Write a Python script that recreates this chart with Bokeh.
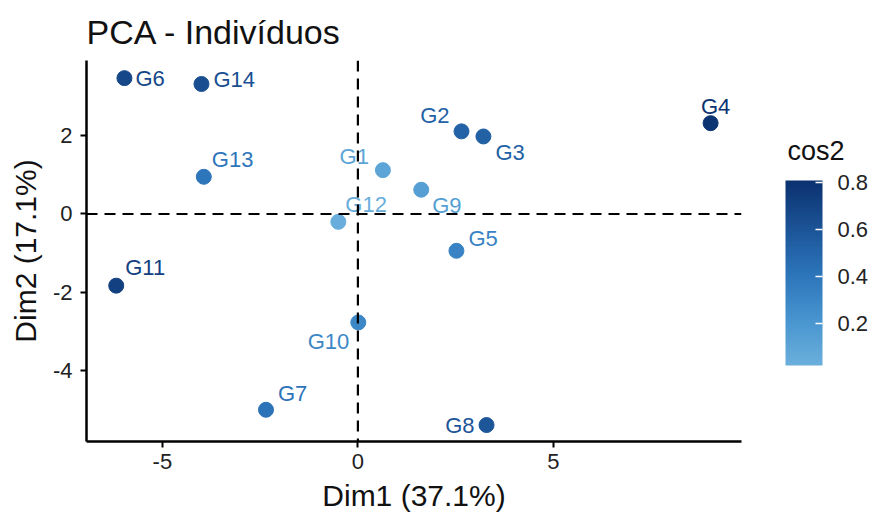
from bokeh.plotting import figure
from bokeh.models import (ColumnDataSource, LinearColorMapper, ColorBar, Span,
                          FixedTicker, Range1d)
from bokeh.core.properties import value
from bokeh.embed import file_html
from bokeh.resources import INLINE

# PCA individual coordinates and quality of representation
individuals = ["G1", "G2", "G3", "G4", "G5", "G6", "G7",
               "G8", "G9", "G10", "G11", "G12", "G13", "G14"]
dim1 = [0.64, 2.65, 3.21, 9.02, 2.52, -5.97, -2.35,
        3.29, 1.62, 0.01, -6.18, -0.50, -3.94, -4.00]
dim2 = [1.12, 2.11, 1.98, 2.32, -0.94, 3.47, -5.00,
        -5.39, 0.62, -2.77, -1.83, -0.20, 0.95, 3.32]
cos2 = [0.10, 0.52, 0.53, 0.80, 0.32, 0.68, 0.42,
        0.60, 0.14, 0.30, 0.72, 0.04, 0.40, 0.64]

x_ticks = [-5, 0, 5]
y_ticks = [-4, -2, 0, 2]
cb_ticks = [0.2, 0.4, 0.6, 0.8]

# label placement (alignment, dx, dy in screen px), like a repel layout
label_pos = {
    "G1": ("right", -14, -14), "G2": ("right", -12, -16), "G3": ("left", 12, 16),
    "G4": ("center", 5, -17), "G5": ("left", 12, -12), "G6": ("left", 11, 0),
    "G7": ("left", 12, -16), "G8": ("right", -12, 0), "G9": ("left", 11, 16),
    "G10": ("right", -9, 19), "G11": ("left", 9, -18), "G12": ("left", 7, -17),
    "G13": ("left", 8, -17), "G14": ("left", 12, -4),
}


def hex_to_rgb(h):
    h = h.lstrip("#")
    return tuple(int(h[i:i + 2], 16) for i in (0, 2, 4))


def gradient(stops, n=256):
    cols = []
    for i in range(n):
        t = i / (n - 1)
        k = min(int(t * (len(stops) - 1)), len(stops) - 2)
        lt = t * (len(stops) - 1) - k
        a, b = hex_to_rgb(stops[k]), hex_to_rgb(stops[k + 1])
        c = [round(a[j] + (b[j] - a[j]) * lt) for j in range(3)]
        cols.append("#%02x%02x%02x" % tuple(c))
    return cols


palette = gradient(["#6bb0dc", "#4794cf", "#2c74b9", "#1b5396", "#0b3170"])
mapper = LinearColorMapper(palette=palette, low=0.02, high=0.81)

FONT = "Liberation Sans"

p = figure(width=875, height=519, output_backend="svg", toolbar_location=None,
           x_range=Range1d(-6.94, 9.81), y_range=Range1d(-5.81, 3.92),
           title="PCA - Indivíduos",
           min_border_left=86, min_border_right=134,
           min_border_top=60, min_border_bottom=78)
p.outline_line_color = None
p.grid.visible = False
p.background_fill_color = "white"
p.border_fill_color = "white"

p.title.text_font = FONT
p.title.text_font_size = "34px"
p.title.text_font_style = "normal"
p.title.text_color = "#111111"
p.title.align = "left"
p.title.offset = 0
p.title.standoff = 19

for ax, ticks, lab in ((p.xaxis[0], x_ticks, "Dim1 (37.1%)"),
                       (p.yaxis[0], y_ticks, "Dim2 (17.1%)")):
    ax.ticker = FixedTicker(ticks=ticks)
    ax.major_label_overrides = {t: str(t) for t in ticks}
    ax.axis_label = lab
    ax.axis_label_text_font = FONT
    ax.axis_label_text_font_size = "30px"
    ax.axis_label_text_font_style = "normal"
    ax.axis_label_text_color = "#111111"
    ax.major_label_text_font = FONT
    ax.major_label_text_font_size = "22px"
    ax.major_label_text_color = "#222222"
    ax.axis_line_width = 2.5
    ax.axis_line_color = "black"
    ax.major_tick_line_width = 2
    ax.major_tick_line_color = "black"
    ax.major_tick_in = 0
    ax.major_tick_out = 6
    ax.minor_tick_line_color = None
p.xaxis[0].major_label_standoff = 6
p.xaxis[0].axis_label_standoff = 7
p.yaxis[0].major_label_standoff = 8
p.yaxis[0].axis_label_standoff = 8

# dashed origin lines
for dim in ("width", "height"):
    p.add_layout(Span(location=0, dimension=dim, line_color="black",
                      line_width=2.2, line_dash="11 7"))

src = ColumnDataSource(dict(name=individuals, x=dim1, y=dim2, cos2=cos2))
color = {"field": "cos2", "transform": mapper}
p.scatter("x", "y", source=src, size=15, fill_color=color, line_color=color)

for align in ("left", "right", "center"):
    names = [n for n in individuals if label_pos[n][0] == align]
    idx = [individuals.index(n) for n in names]
    s = ColumnDataSource(dict(
        x=[dim1[i] for i in idx], y=[dim2[i] for i in idx],
        text=names, cos2=[cos2[i] for i in idx],
        dx=[label_pos[n][1] for n in names], dy=[label_pos[n][2] for n in names]))
    p.text("x", "y", text="text", source=s, x_offset="dx", y_offset="dy",
           text_color=color, text_font=value(FONT), text_font_size="22px",
           text_align=align, text_baseline="middle")

# colour scale for cos2
cb = ColorBar(color_mapper=mapper, ticker=FixedTicker(ticks=cb_ticks),
              width=37, height=185, location=(699, 76),
              padding=0, margin=0,
              major_label_text_font=FONT, major_label_text_font_size="22px",
              major_label_text_color="#222222", label_standoff=15,
              major_tick_line_color="white", major_tick_line_width=1.5,
              major_tick_in=7, major_tick_out=0, bar_line_color=None,
              background_fill_alpha=0, border_line_color=None)
p.add_layout(cb, "center")

# heading of the colour scale: a flat, empty bar that only carries the title
heading = ColorBar(color_mapper=LinearColorMapper(palette=["#ffffff00"], low=0, high=1),
                   orientation="horizontal", ticker=FixedTicker(ticks=[]),
                   width=60, height=1, location=(701, 275),
                   padding=0, margin=0, title="cos2",
                   title_text_font=FONT, title_text_font_size="27px",
                   title_text_font_style="normal", title_text_color="#111111",
                   title_standoff=0, major_label_text_alpha=0,
                   major_tick_line_color=None, minor_tick_line_color=None,
                   bar_line_color=None, background_fill_alpha=0,
                   border_line_color=None)
p.add_layout(heading, "center")

open("out.html", "w").write(file_html(p, INLINE))
